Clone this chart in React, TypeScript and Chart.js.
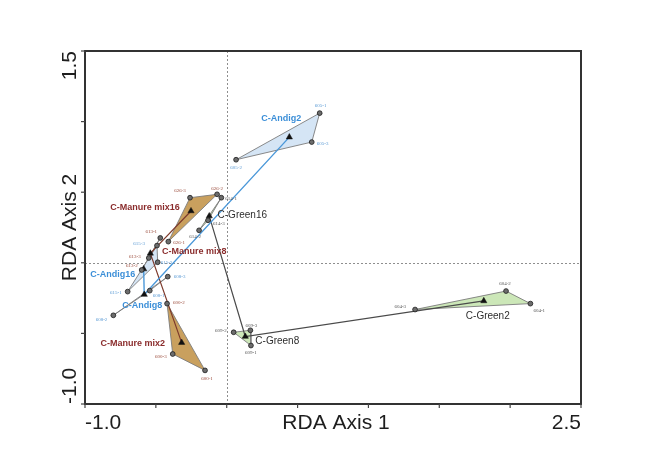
import React, { useEffect, useRef } from "react";
import { Chart, registerables } from "chart.js";
Chart.register(...registerables);

// ---------- axis ranges & ticks ----------
const xMin = -1.0;
const xMax = 2.5;
const yMin = -1.0;
const yMax = 1.5;
const xTickValues = [-1.0, -0.5, 0, 0.5, 1.0, 1.5, 2.0, 2.5];
const xTickLabels = ["-1.0", "", "", "", "", "", "", "2.5"];
const yTickValues = [-1.0, -0.5, 0, 0.5, 1.0, 1.5];
const yTickLabels = ["-1.0", "", "", "", "", "1.5"];
const xTitle = "RDA Axis 1";
const yTitle = "RDA Axis 2";

// ---------- treatment groups (centroids) ----------
const groupNames = [
  "C-Andig2", "C-Andig8", "C-Andig16",
  "C-Green2", "C-Green8", "C-Green16",
  "C-Manure mix2", "C-Manure mix8", "C-Manure mix16",
];
const groupFamily = ["andig", "andig", "andig", "green", "green", "green", "manure", "manure", "manure"];
const centroidX = [0.442, -0.582, -0.586, 1.814, 0.131, -0.123, -0.318, -0.539, -0.252];
const centroidY = [0.890, -0.225, -0.044, -0.270, -0.522, 0.331, -0.565, 0.067, 0.367];

// ---------- samples (replicates) ----------
const sampleIds = [
  "605-1", "605-3", "605-2",
  "608-1", "608-3", "608-2",
  "615-3", "615-2", "615-1",
  "604-2", "604-1", "604-3",
  "609-2", "609-3", "609-1",
  "614-1", "614-3", "614-2",
  "600-2", "600-3", "600-1",
  "613-1", "613-3", "613-2",
  "626-3", "626-2", "626-1",
];
const sampleGroup = [0, 0, 0, 1, 1, 1, 2, 2, 2, 3, 3, 3, 4, 4, 4, 5, 5, 5, 6, 6, 6, 7, 7, 7, 8, 8, 8];
const sampleX = [
  0.656, 0.600, 0.066,
  -0.543, -0.416, -0.800,
  -0.492, -0.487, -0.699,
  1.971, 2.143, 1.329,
  0.049, 0.167, 0.171,
  -0.038, -0.132, -0.195,
  -0.421, -0.381, -0.153,
  -0.469, -0.550, -0.600,
  -0.259, -0.068, -0.412,
];
const sampleY = [
  1.060, 0.855, 0.730,
  -0.197, -0.098, -0.372,
  0.122, 0.004, -0.204,
  -0.200, -0.289, -0.331,
  -0.492, -0.478, -0.586,
  0.461, 0.301, 0.230,
  -0.289, -0.646, -0.762,
  0.176, 0.034, -0.051,
  0.461, 0.485, 0.150,
];

// trajectories (2 -> 8 -> 16 weeks) per family, as group indices
const trajectoryAndig = [0, 1, 2];
const trajectoryGreen = [3, 4, 5];
const trajectoryManure = [6, 7, 8];

// ---------- styling (not data) ----------
const familyHullFill: Record<string, string> = {
  andig: "#d5e5f5",
  green: "#cce7b8",
  manure: "#c9a05e",
};
const familyLineColor: Record<string, string> = {
  andig: "#4b98d9",
  green: "#4a4a4a",
  manure: "#7d3a2c",
};
const familyTextColor: Record<string, string> = {
  andig: "#3c8fd8",
  green: "#2e2e2e",
  manure: "#8a2c2c",
};
const familySampleColor: Record<string, string> = {
  andig: "#5a9ad4",
  green: "#555555",
  manure: "#9a4a3a",
};
// sample label placement (pixel offsets from the point)
const sampleLabelDx = [1, 5, 0, 3, 6, -6, -12, 3, -6, -1, 3, -9, -7, 1, 0, 4, 5, -4, 6, -6, 2, -9, -8, -4, -10, 0, 5];
const sampleLabelDy = [-7, 2, 8, 5, 0, 4, -2, 0, 1, -7, 7, -3, -2, -5, 7, 1, 3, 6, -1, 3, 8, -6, -1, -4, -7, -6, 1];
const sampleLabelAlign = [
  "center", "left", "center",
  "left", "left", "right",
  "right", "left", "right",
  "center", "left", "right",
  "right", "center", "center",
  "left", "left", "center",
  "left", "right", "center",
  "center", "right", "right",
  "center", "center", "left",
];
// group label placement (pixel offsets from the centroid, centred)
const groupLabelDx = [-8, -2, -31, 4, 32, 33, -49, 44, -46];
const groupLabelDy = [-19, 11, 6, 15, 5, -1, 1, -2, -3];

const SANS = "'Liberation Sans', Arial, Helvetica, sans-serif";
const SERIF = "'Liberation Serif', 'Times New Roman', serif";

function hullData(g: number) {
  const pts: { x: number; y: number }[] = [];
  for (let i = 0; i < sampleIds.length; i++) {
    if (sampleGroup[i] === g) pts.push({ x: sampleX[i], y: sampleY[i] });
  }
  if (pts.length) pts.push({ ...pts[0] });
  return pts;
}

function trajectoryData(idx: number[]) {
  return idx.map((g) => ({ x: centroidX[g], y: centroidY[g] }));
}

const decorPlugin = {
  id: "decor",
  beforeDatasetsDraw(chart: any) {
    const { ctx, chartArea: a, scales } = chart;
    const xs = scales.x;
    const ys = scales.y;
    ctx.save();
    ctx.strokeStyle = "#8e8e8e";
    ctx.lineWidth = 1;
    ctx.setLineDash([2, 2]);
    const x0 = Math.round(xs.getPixelForValue(0)) + 0.5;
    ctx.beginPath();
    ctx.moveTo(x0, a.top);
    ctx.lineTo(x0, a.bottom);
    ctx.stroke();
    const y0 = Math.round(ys.getPixelForValue(0)) + 0.5;
    ctx.beginPath();
    ctx.moveTo(a.left, y0);
    ctx.lineTo(a.right, y0);
    ctx.stroke();
    ctx.restore();
  },
  afterDatasetsDraw(chart: any) {
    const { ctx, scales } = chart;
    const xs = scales.x;
    const ys = scales.y;
    ctx.save();
    // sample labels
    ctx.font = `5px ${SERIF}`;
    ctx.textBaseline = "middle";
    for (let i = 0; i < sampleIds.length; i++) {
      const fam = groupFamily[sampleGroup[i]];
      ctx.fillStyle = familySampleColor[fam];
      ctx.textAlign = sampleLabelAlign[i] as CanvasTextAlign;
      const px = xs.getPixelForValue(sampleX[i]) + sampleLabelDx[i];
      const py = ys.getPixelForValue(sampleY[i]) + sampleLabelDy[i];
      ctx.fillText(sampleIds[i], px, py);
    }
    // group labels
    ctx.textAlign = "center";
    for (let g = 0; g < groupNames.length; g++) {
      const fam = groupFamily[g];
      ctx.font = fam === "green" ? `10px ${SANS}` : `bold 9px ${SANS}`;
      ctx.fillStyle = familyTextColor[fam];
      const px = xs.getPixelForValue(centroidX[g]) + groupLabelDx[g];
      const py = ys.getPixelForValue(centroidY[g]) + groupLabelDy[g];
      ctx.fillText(groupNames[g], px, py);
    }
    ctx.restore();
  },
  afterDraw(chart: any) {
    const { ctx, chartArea: a, scales } = chart;
    const xs = scales.x;
    const ys = scales.y;
    ctx.save();
    // frame
    ctx.strokeStyle = "#333333";
    ctx.lineWidth = 2;
    ctx.strokeRect(a.left, a.top, a.right - a.left, a.bottom - a.top);
    // ticks
    ctx.lineWidth = 1.2;
    ctx.strokeStyle = "#444444";
    xTickValues.forEach((v) => {
      const px = xs.getPixelForValue(v);
      ctx.beginPath();
      ctx.moveTo(px, a.bottom);
      ctx.lineTo(px, a.bottom + 4);
      ctx.stroke();
    });
    yTickValues.forEach((v) => {
      const py = ys.getPixelForValue(v);
      ctx.beginPath();
      ctx.moveTo(a.left - 4, py);
      ctx.lineTo(a.left, py);
      ctx.stroke();
    });
    // tick labels
    ctx.fillStyle = "#1e1e1e";
    ctx.font = `21px ${SANS}`;
    ctx.textBaseline = "alphabetic";
    xTickLabels.forEach((lab, i) => {
      if (!lab) return;
      const px = xs.getPixelForValue(xTickValues[i]);
      ctx.textAlign = i === 0 ? "left" : i === xTickLabels.length - 1 ? "right" : "center";
      ctx.fillText(lab, px, a.bottom + 25);
    });
    yTickLabels.forEach((lab, i) => {
      if (!lab) return;
      const py = ys.getPixelForValue(yTickValues[i]);
      ctx.save();
      ctx.translate(a.left - 9, py);
      ctx.rotate(-Math.PI / 2);
      ctx.textAlign = i === 0 ? "left" : i === yTickLabels.length - 1 ? "right" : "center";
      ctx.fillText(lab, 0, 0);
      ctx.restore();
    });
    // axis titles
    ctx.textAlign = "center";
    ctx.fillText(xTitle, (a.left + a.right) / 2 + 3, a.bottom + 25);
    ctx.save();
    ctx.translate(a.left - 9, (a.top + a.bottom) / 2);
    ctx.rotate(-Math.PI / 2);
    ctx.fillText(yTitle, 0, 0);
    ctx.restore();
    ctx.restore();
  },
};

export default function App() {
  const ref = useRef<HTMLCanvasElement | null>(null);
  useEffect(() => {
    if (!ref.current) return;
    const datasets: any[] = [];
    // sample points (top)
    datasets.push({
      type: "scatter",
      data: sampleIds.map((_, i) => ({ x: sampleX[i], y: sampleY[i] })),
      pointRadius: 2.4,
      pointBackgroundColor: "#6c6c6c",
      pointBorderColor: "#1c1c1c",
      pointBorderWidth: 0.8,
      showLine: false,
    });
    // centroids
    datasets.push({
      type: "scatter",
      data: groupNames.map((_, g) => ({ x: centroidX[g], y: centroidY[g] })),
      pointStyle: "triangle",
      pointRadius: 3.6,
      pointBackgroundColor: "#111111",
      pointBorderColor: "#111111",
      pointBorderWidth: 0.5,
      showLine: false,
    });
    // trajectories
    [
      [trajectoryAndig, "andig"],
      [trajectoryGreen, "green"],
      [trajectoryManure, "manure"],
    ].forEach(([idx, fam]: any) => {
      datasets.push({
        type: "line",
        data: trajectoryData(idx),
        borderColor: familyLineColor[fam],
        borderWidth: fam === "andig" ? 1.4 : 1.2,
        pointRadius: 0,
        fill: false,
        tension: 0,
      });
    });
    // hulls (bottom)
    groupNames.forEach((_, g) => {
      const fam = groupFamily[g];
      datasets.push({
        type: "line",
        data: hullData(g),
        borderColor: "#7c7c7c",
        borderWidth: 0.9,
        backgroundColor: familyHullFill[fam],
        fill: "shape",
        pointRadius: 0,
        tension: 0,
      });
    });

    const chart = new Chart(ref.current, {
      type: "scatter",
      data: { datasets },
      options: {
        animation: false,
        responsive: false,
        devicePixelRatio: 1,
        layout: { padding: { left: 85, right: 88, top: 51, bottom: 71 } },
        plugins: { legend: { display: false }, tooltip: { enabled: false } },
        scales: {
          x: {
            type: "linear",
            min: xMin,
            max: xMax,
            display: true,
            grid: { display: false, drawTicks: false },
            border: { display: false },
            ticks: { display: false },
            afterFit: (s: any) => { s.height = 0; },
          },
          y: {
            type: "linear",
            min: yMin,
            max: yMax,
            display: true,
            grid: { display: false, drawTicks: false },
            border: { display: false },
            ticks: { display: false },
            afterFit: (s: any) => { s.width = 0; },
          },
        },
      },
      plugins: [decorPlugin],
    });
    return () => chart.destroy();
  }, []);

  return (
    <div style={{ position: "absolute", left: 0, top: 0, width: 669, height: 475, background: "#ffffff" }}>
      <canvas ref={ref} width={669} height={475} style={{ display: "block" }} />
    </div>
  );
}
